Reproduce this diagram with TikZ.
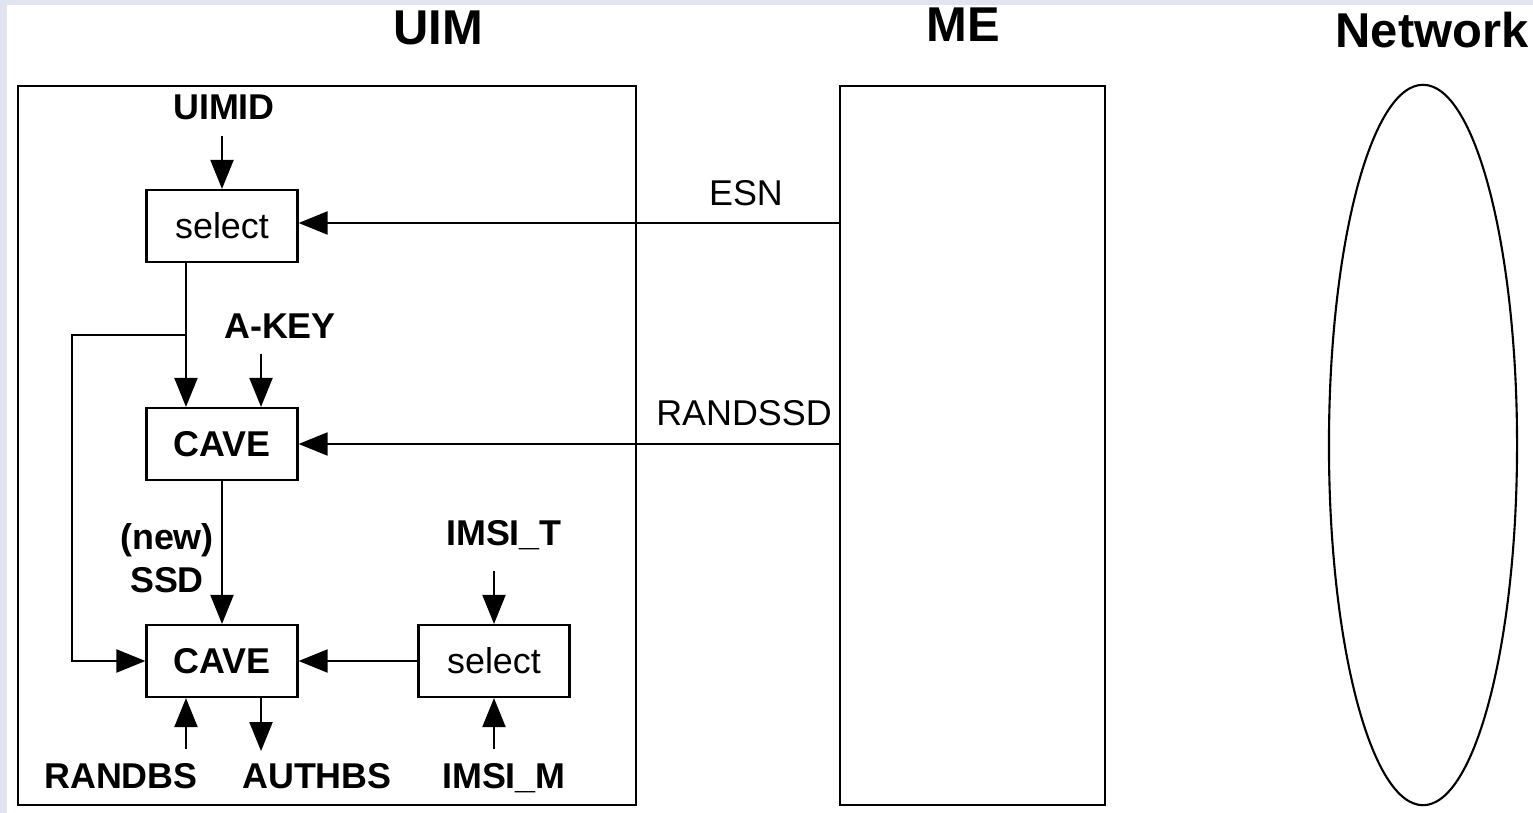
\documentclass[tikz,border=0pt]{standalone}
\usepackage{fontspec}
\setmainfont{Liberation Sans}
\usetikzlibrary{arrows.meta}

\definecolor{framebg}{RGB}{224,228,240}

\begin{document}
\begin{tikzpicture}[x=0.01cm,y=-0.01cm,
        line width=0.6pt,
        box/.style={draw, minimum width=1.51cm, minimum height=0.72cm, inner sep=0pt,
            font=\fontsize{10.2pt}{12.2pt}\selectfont},
        boldbox/.style={box, font=\bfseries\fontsize{10.2pt}{12.2pt}\selectfont},
        inlbl/.style={inner sep=0pt, text height=0.26cm, text depth=0cm,
            font=\bfseries\fontsize{10.2pt}{12.2pt}\selectfont},
        msglbl/.style={inner sep=0pt, font=\fontsize{10.2pt}{12.2pt}\selectfont},
        title/.style={inner sep=0pt, font=\bfseries\fontsize{13.9pt}{16pt}\selectfont},
        arr/.style={-{Triangle[length=0.29cm,width=0.23cm]}}]

    % Background and frame
    \useasboundingbox (0,0) rectangle (1533,813);
    \fill[framebg] (0,0) rectangle (1533,813);
    \fill[white] (7,5) rectangle (1533,813);

    % Titles
    \node[title] (uimtitle) at (438,28) {UIM};
    \node[title] (metitle) at (963,25) {ME};
    \node[title] (nettitle) at (1432,30) {Network};

    % Outer boxes
    \draw (18,86) rectangle (636,805);
    \node[draw, minimum width=2.65cm, minimum height=7.19cm, inner sep=0pt] (me) at (972.5,445.5) {};
    \draw (1423,445) ellipse [x radius=0.94cm, y radius=3.6cm];

    % Function blocks
    \node[box] (select1) at (222,226) {select};
    \node[boldbox] (cave1) at (222,444) {CAVE};
    \node[boldbox] (cave2) at (222,661) {CAVE};
    \node[box] (select2) at (494,661) {select};

    % Inputs and outputs
    \node[inlbl] (uimid) at (224,107) {UIMID};
    \node[inlbl] (akey) at (280,325) {A-KEY};
    \node[inlbl] (imsit) at (504,532) {IMSI\_T};
    \node[inlbl] (randbs) at (121,775) {RANDBS};
    \node[inlbl] (authbs) at (317,775) {AUTHBS};
    \node[inlbl] (imsim) at (504,775) {IMSI\_M};
    \node[inner sep=0pt, align=center, font=\bfseries\fontsize{10.2pt}{12.2pt}\selectfont] (newssd) at (167,558) {(new)\\SSD};

    \node[msglbl] (esn) at (746,193) {ESN};
    \node[msglbl] (randssd) at (744,413) {RANDSSD};

    % Connections inside the UIM
    \draw[arr, shorten <=0.15cm] (uimid.south -| select1.north) -- (select1.north);
    \draw[arr] ([xshift=-0.36cm]select1.south) -- ([xshift=-0.36cm]cave1.north);
    \draw[arr, shorten <=0.15cm] (akey.south -| cave1.north) ++(0.39cm,0) -- ([xshift=0.39cm]cave1.north);
    \draw[arr] (cave1.south) -- (cave2.north);
    \coordinate (branch) at (186,335);
    \coordinate (loopcorner) at (72,335);
    \draw[arr] (branch) -- (loopcorner) |- (cave2.west);
    \draw[arr, shorten <=0.25cm] (imsit.south -| select2.north) -- (select2.north);
    \draw[arr] (select2.west) -- (cave2.east);
    \draw[arr, shorten <=0.12cm] (randbs.north -| cave2.south) ++(-0.36cm,0) -- ([xshift=-0.36cm]cave2.south);
    \draw[arr] ([xshift=0.39cm]cave2.south) -- ++(0,53);
    \draw[arr, shorten <=0.12cm] (imsim.north -| select2.south) -- (select2.south);

    % Messages from the ME
    \draw[arr] ([yshift=0.03cm]select1.east -| me.west) -- ([yshift=0.03cm]select1.east);
    \draw[arr] (cave1.east -| me.west) -- (cave1.east);

\end{tikzpicture}
\end{document}
